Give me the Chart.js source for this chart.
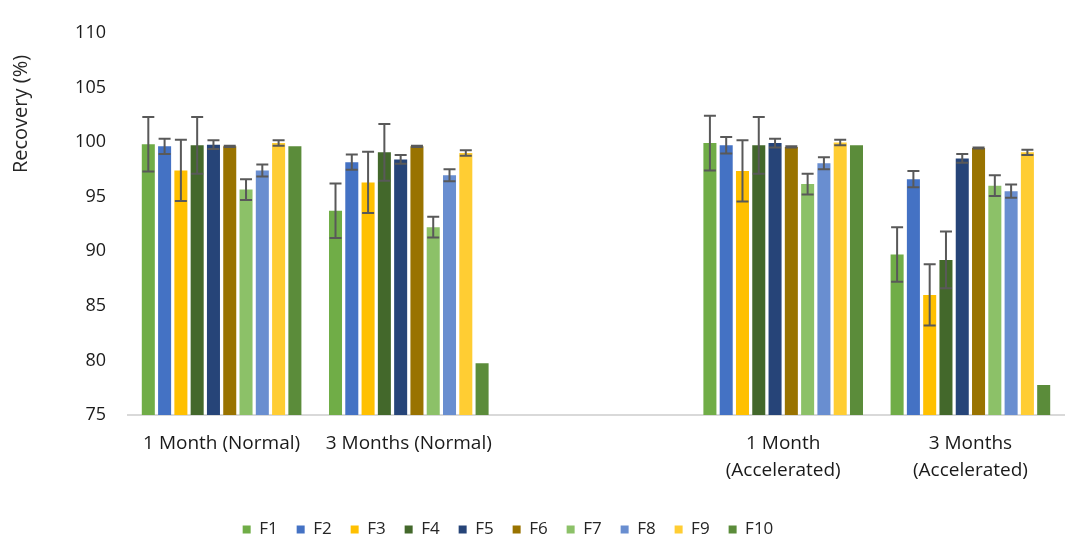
<!DOCTYPE html>
<html>
<head>
<meta charset="utf-8">
<script src="https://cdn.jsdelivr.net/npm/chart.js@4.4.1/dist/chart.umd.min.js"></script>
<style>
  html, body { margin: 0; padding: 0; background: #fff; }
  #wrap { width: 1072px; height: 545px; position: relative; }
</style>
</head>
<body>
<div id="wrap"><canvas id="chart"></canvas></div>
<script>
const categories = ['1 Month (Normal)', '3 Months (Normal)', '', ['1 Month', '(Accelerated)'], ['3 Months', '(Accelerated)']];
const seriesNames = ['F1', 'F2', 'F3', 'F4', 'F5', 'F6', 'F7', 'F8', 'F9', 'F10'];
const yTicks = [75, 80, 85, 90, 95, 100, 105, 110];

// recovery values per formulation (middle category is an empty gap)
const f1 = [99.8, 93.7, null, 99.9, 89.7];
const f2 = [99.6, 98.15, null, 99.7, 96.6];
const f3 = [97.4, 96.3, null, 97.35, 86.0];
const f4 = [99.7, 99.05, null, 99.7, 89.2];
const f5 = [99.75, 98.4, null, 99.9, 98.5];
const f6 = [99.6, 99.6, null, 99.55, 99.45];
const f7 = [95.65, 92.2, null, 96.15, 96.0];
const f8 = [97.4, 96.95, null, 98.05, 95.5];
const f9 = [99.9, 99.0, null, 99.95, 99.05];
const f10 = [99.6, 79.75, null, 99.7, 77.75];

// standard deviations (error bars)
const e1 = [2.5, 2.5, null, 2.5, 2.5];
const e2 = [0.7, 0.7, null, 0.75, 0.75];
const e3 = [2.8, 2.8, null, 2.8, 2.8];
const e4 = [2.6, 2.6, null, 2.6, 2.6];
const e5 = [0.4, 0.4, null, 0.4, 0.4];
const e6 = [0.05, 0.05, null, 0.05, 0.05];
const e7 = [0.95, 0.95, null, 0.95, 0.95];
const e8 = [0.55, 0.55, null, 0.55, 0.6];
const e9 = [0.25, 0.25, null, 0.25, 0.25];
const e10 = [null, null, null, null, null];

const values = [f1, f2, f3, f4, f5, f6, f7, f8, f9, f10];
const errors = [e1, e2, e3, e4, e5, e6, e7, e8, e9, e10];
const colors = ['#70AD47', '#4472C4', '#FFC000', '#43682B', '#264478', '#997300', '#8CC168', '#698ED0', '#FFCD33', '#5B8C3A'];

const FONT = 'Open Sans';

const errorBars = {
  id: 'errorBars',
  afterDatasetsDraw(chart) {
    const { ctx, scales: { y } } = chart;
    ctx.save();
    ctx.strokeStyle = '#595959';
    ctx.lineWidth = 2;
    chart.data.datasets.forEach((ds, i) => {
      const meta = chart.getDatasetMeta(i);
      meta.data.forEach((bar, j) => {
        const v = ds.data[j], e = errors[i][j];
        if (v == null || e == null) return;
        const top = y.getPixelForValue(v + e);
        const bot = y.getPixelForValue(v - e);
        const x = bar.x, cap = 6;
        ctx.beginPath();
        ctx.moveTo(x, top); ctx.lineTo(x, bot);
        ctx.moveTo(x - cap, top); ctx.lineTo(x + cap, top);
        ctx.moveTo(x - cap, bot); ctx.lineTo(x + cap, bot);
        ctx.stroke();
      });
    });
    ctx.restore();
  }
};

// axis title sits higher than the plot centre in the original
const yTitle = {
  id: 'yTitle',
  afterDraw(chart) {
    const { ctx } = chart;
    ctx.save();
    ctx.translate(21, 114);
    ctx.rotate(-Math.PI / 2);
    ctx.font = `20px "${FONT}"`;
    ctx.fillStyle = '#262626';
    ctx.textAlign = 'center';
    ctx.textBaseline = 'middle';
    ctx.fillText('Recovery (%)', 0, 0);
    ctx.restore();
  }
};

// nudge legend to where it sits in the original
const legendPos = {
  id: 'legendPos',
  afterLayout(chart) {
    const lg = chart.legend;
    const dx = 508 - (lg.left + lg.right) / 2;
    const dy = 525 - (lg.top + lg.bottom) / 2;
    lg.left += dx; lg.right += dx;
    lg.top += dy; lg.bottom += dy;
  }
};

new Chart(document.getElementById('chart'), {
  type: 'bar',
  data: {
    labels: categories,
    datasets: seriesNames.map((name, i) => ({
      label: name,
      data: values[i],
      backgroundColor: colors[i],
      borderWidth: 0,
      categoryPercentage: 0.87,
      barPercentage: 0.8
    }))
  },
  options: {
    responsive: true,
    maintainAspectRatio: false,
    animation: false,
    layout: { padding: { top: 19, right: 8, left: 0, bottom: 6 } },
    plugins: {
      legend: {
        position: 'bottom',
        labels: {
          boxWidth: 8, boxHeight: 8, padding: 19,
          color: '#262626',
          font: { family: FONT, size: 17 }
        }
      },
      tooltip: { enabled: false }
    },
    scales: {
      x: {
        grid: { display: false, drawTicks: false },
        border: { color: '#D9D9D9', width: 2 },
        ticks: { color: '#1a1a1a', font: { family: FONT, size: 19, lineHeight: 1.42 }, padding: 15, maxRotation: 0, autoSkip: false },
        afterFit: s => { s.height = 78; }
      },
      y: {
        min: 75, max: 110,
        afterBuildTicks: s => { s.ticks = yTicks.map(v => ({ value: v })); },
        grid: { display: false, drawTicks: false },
        border: { display: false },
        ticks: { color: '#1a1a1a', font: { family: FONT, size: 18 }, padding: 22 },
        afterFit: s => { s.width = 128; }
      }
    }
  },
  plugins: [errorBars, yTitle, legendPos]
});
</script>
</body>
</html>
